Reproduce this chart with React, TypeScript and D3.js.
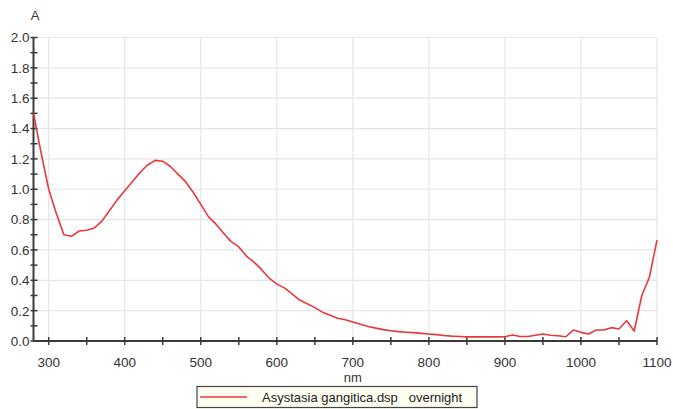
import React, { useRef, useEffect } from "react";
import * as d3 from "d3";

// wavelength (nm) and absorbance
const wavelengths = [
  280, 290, 300, 310, 320, 330, 340, 350, 360, 370, 380, 390, 400, 410, 420, 430, 440, 450, 460, 470,
  480, 490, 500, 510, 520, 530, 540, 550, 560, 570, 580, 590, 600, 610, 620, 630, 640, 650, 660, 670,
  680, 690, 700, 710, 720, 730, 740, 750, 760, 770, 780, 790, 800, 810, 820, 830, 840, 850, 860, 870,
  880, 890, 900, 910, 920, 930, 940, 950, 960, 970, 980, 990, 1000, 1010, 1020, 1030, 1040, 1050, 1060,
  1070, 1080, 1090, 1100,
];
const absorbance = [
  1.5, 1.24, 1.0, 0.84, 0.7, 0.69, 0.725, 0.73, 0.745, 0.79, 0.86, 0.93, 0.99, 1.05, 1.11, 1.16, 1.19, 1.185, 1.15, 1.1,
  1.05, 0.98, 0.9, 0.82, 0.77, 0.71, 0.655, 0.62, 0.56, 0.52, 0.47, 0.415, 0.375, 0.35, 0.31, 0.27, 0.245, 0.22, 0.19, 0.17,
  0.15, 0.14, 0.125, 0.11, 0.095, 0.085, 0.075, 0.068, 0.062, 0.058, 0.055, 0.05, 0.046, 0.042, 0.036, 0.032, 0.03, 0.027, 0.027, 0.027,
  0.027, 0.027, 0.028, 0.04, 0.03, 0.03, 0.038, 0.046, 0.038, 0.035, 0.028, 0.072, 0.057, 0.046, 0.072, 0.072, 0.088, 0.079, 0.134,
  0.066, 0.3, 0.42, 0.665,
];
const xMajorTicks = [300, 400, 500, 600, 700, 800, 900, 1000, 1100];
const yMajorTicks = [0, 0.2, 0.4, 0.6, 0.8, 1.0, 1.2, 1.4, 1.6, 1.8, 2.0];
const seriesName = "Asystasia gangitica.dsp   overnight";

const W = 673;
const H = 409;

const App = () => {
  const svgRef = useRef<SVGSVGElement | null>(null);

  useEffect(() => {
    if (!svgRef.current) return;
    const svg = d3.select(svgRef.current);
    svg.selectAll("*").remove();

    const x = d3.scaleLinear().domain([280, 1100]).range([33.5, 657]);
    const y = d3.scaleLinear().domain([0, 2]).range([341, 37.5]);
    const font = "'Liberation Sans', Arial, sans-serif";
    const axisColor = "#3a3a3a";

    // grid
    const grid = svg.append("g");
    grid
      .selectAll("line.h")
      .data(yMajorTicks.filter((d) => d > 0))
      .enter()
      .append("line")
      .attr("x1", x(280))
      .attr("x2", x(1100))
      .attr("y1", (d) => y(d))
      .attr("y2", (d) => y(d))
      .attr("stroke", "#e6e6e6")
      .attr("stroke-width", 1.2);
    grid
      .selectAll("line.v")
      .data(xMajorTicks)
      .enter()
      .append("line")
      .attr("x1", (d) => x(d))
      .attr("x2", (d) => x(d))
      .attr("y1", y(2))
      .attr("y2", y(0))
      .attr("stroke", "#e6e6e6")
      .attr("stroke-width", 1.2);

    // y axis with minor ticks
    const yAxis = svg.append("g").attr("transform", `translate(${x(280)},0)`);
    yAxis
      .append("line")
      .attr("y1", y(2))
      .attr("y2", y(0))
      .attr("stroke", axisColor)
      .attr("stroke-width", 2);
    yAxis
      .selectAll("line.t")
      .data(d3.range(0, 21).map((i) => i / 10))
      .enter()
      .append("line")
      .attr("x1", -3)
      .attr("x2", 4)
      .attr("y1", (d) => y(d))
      .attr("y2", (d) => y(d))
      .attr("stroke", axisColor)
      .attr("stroke-width", 1.5);
    yAxis
      .selectAll("text")
      .data(yMajorTicks)
      .enter()
      .append("text")
      .attr("x", -4)
      .attr("y", (d) => y(d))
      .attr("dy", "0.36em")
      .attr("text-anchor", "end")
      .attr("font-family", font)
      .attr("font-size", 13.5)
      .attr("fill", "#333")
      .text((d) => d.toFixed(1));

    // x axis with minor ticks
    const xAxis = svg.append("g").attr("transform", `translate(0,${y(0)})`);
    xAxis
      .append("line")
      .attr("x1", x(280))
      .attr("x2", x(1100))
      .attr("stroke", axisColor)
      .attr("stroke-width", 2);
    xAxis
      .selectAll("line.t")
      .data(d3.range(300, 1101, 50))
      .enter()
      .append("line")
      .attr("x1", (d) => x(d))
      .attr("x2", (d) => x(d))
      .attr("y1", -4)
      .attr("y2", 4)
      .attr("stroke", axisColor)
      .attr("stroke-width", 1.5);
    xAxis
      .selectAll("text")
      .data(xMajorTicks)
      .enter()
      .append("text")
      .attr("x", (d) => x(d))
      .attr("y", 26)
      .attr("text-anchor", "middle")
      .attr("font-family", font)
      .attr("font-size", 13.5)
      .attr("fill", "#333")
      .text((d) => d);

    // axis titles
    svg
      .append("text")
      .attr("x", 35)
      .attr("y", 20)
      .attr("text-anchor", "middle")
      .attr("font-family", font)
      .attr("font-size", 13)
      .attr("fill", "#333")
      .text("A");
    svg
      .append("text")
      .attr("x", x(700))
      .attr("y", 382)
      .attr("text-anchor", "middle")
      .attr("font-family", font)
      .attr("font-size", 13)
      .attr("fill", "#333")
      .text("nm");

    // spectrum
    const line = d3
      .line<number>()
      .x((_, i) => x(wavelengths[i]))
      .y((d) => y(d));
    svg
      .append("path")
      .datum(absorbance)
      .attr("d", line)
      .attr("fill", "none")
      .attr("stroke", "#e8383d")
      .attr("stroke-width", 1.6)
      .attr("stroke-linejoin", "round");

    // legend
    const legend = svg.append("g");
    legend
      .append("rect")
      .attr("x", 197)
      .attr("y", 386.5)
      .attr("width", 280)
      .attr("height", 21)
      .attr("fill", "#fffff2")
      .attr("stroke", "#444")
      .attr("stroke-width", 1.2);
    legend
      .append("line")
      .attr("x1", 200)
      .attr("x2", 247)
      .attr("y1", 397)
      .attr("y2", 397)
      .attr("stroke", "#e8383d")
      .attr("stroke-width", 1.6);
    legend
      .append("text")
      .attr("x", 262)
      .attr("y", 397)
      .attr("dy", "0.36em")
      .attr("font-family", font)
      .attr("font-size", 13)
      .attr("fill", "#222")
      .attr("xml:space", "preserve")
      .style("white-space", "pre")
      .text(seriesName);
  }, []);

  return (
    <svg
      ref={svgRef}
      width={W}
      height={H}
      style={{ position: "absolute", left: 0, top: 0, background: "#fff" }}
    />
  );
};

export default App;
